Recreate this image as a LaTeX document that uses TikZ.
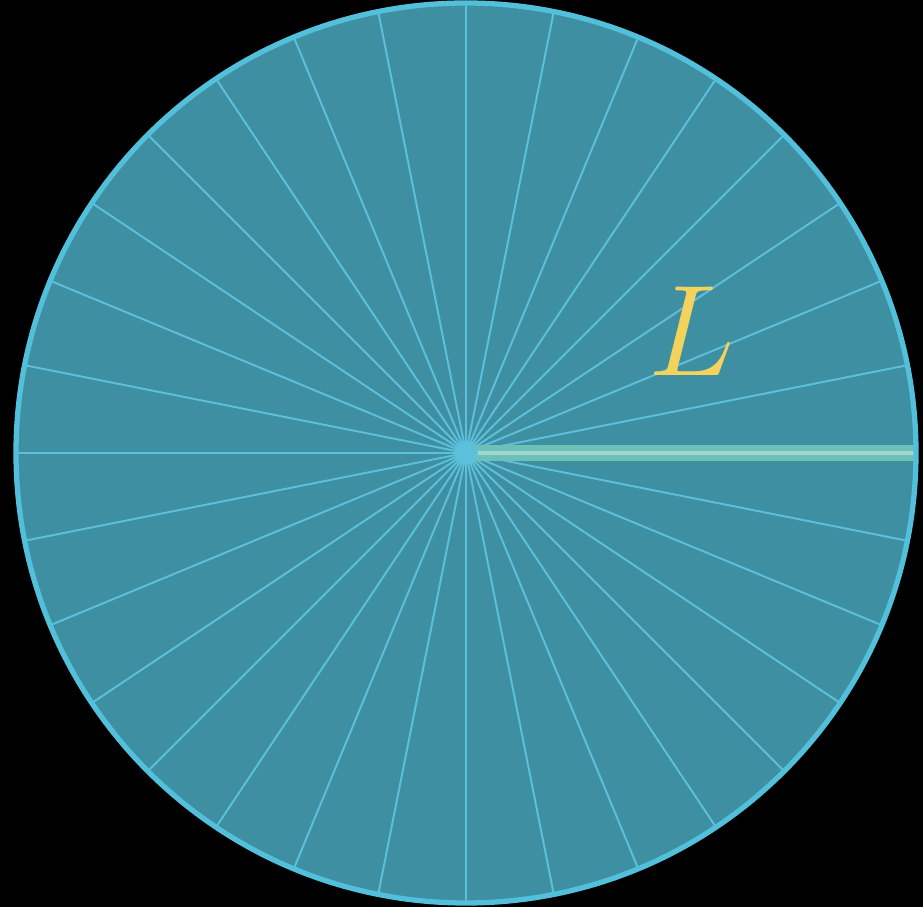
\documentclass[tikz,border=0pt]{standalone}
\usepackage{amsmath,amssymb}
\usepackage{tikz}
\usepackage{xcolor}
\definecolor{discfill}{HTML}{3F8FA3}
\definecolor{discrim}{HTML}{52C0DA}
\definecolor{spoke}{HTML}{5CC0DA}
\definecolor{radline}{HTML}{6CC0B6}
\definecolor{lenlabel}{HTML}{F3D35C}
\begin{document}
\begin{tikzpicture}[x=0.01cm,y=0.01cm,spk/.style={spoke,line width=0.55pt}]
\fill[black] (0,0) rectangle (923,-907);
\useasboundingbox (0,0) rectangle (923,-907);
\coordinate (c) at (466,-453);
\fill[discfill] (c) circle (450);
\draw[spk] (c) ++(0:450) -- ++(180:900);
\draw[spk] (c) ++(11.25:450) -- ++(191.25:900);
\draw[spk] (c) ++(22.5:450) -- ++(202.5:900);
\draw[spk] (c) ++(33.75:450) -- ++(213.75:900);
\draw[spk] (c) ++(45:450) -- ++(225:900);
\draw[spk] (c) ++(56.25:450) -- ++(236.25:900);
\draw[spk] (c) ++(67.5:450) -- ++(247.5:900);
\draw[spk] (c) ++(78.75:450) -- ++(258.75:900);
\draw[spk] (c) ++(90:450) -- ++(270:900);
\draw[spk] (c) ++(101.25:450) -- ++(281.25:900);
\draw[spk] (c) ++(112.5:450) -- ++(292.5:900);
\draw[spk] (c) ++(123.75:450) -- ++(303.75:900);
\draw[spk] (c) ++(135:450) -- ++(315:900);
\draw[spk] (c) ++(146.25:450) -- ++(326.25:900);
\draw[spk] (c) ++(157.5:450) -- ++(337.5:900);
\draw[spk] (c) ++(168.75:450) -- ++(348.75:900);
\coordinate (rim) at (914,-453);
\draw[draw=radline,line width=4.6pt] (c) -- (rim);
\draw[draw=radline!65!white,line width=1.2pt] (c) -- (rim);
\fill[spoke] (c) circle (12);
\draw[discrim,line width=1.5pt] (c) circle (450);
\node[text=lenlabel,font=\fontsize{24.88}{28}\selectfont,scale=1.48] (len) at (692,-331) {$L$};
\end{tikzpicture}
\end{document}
